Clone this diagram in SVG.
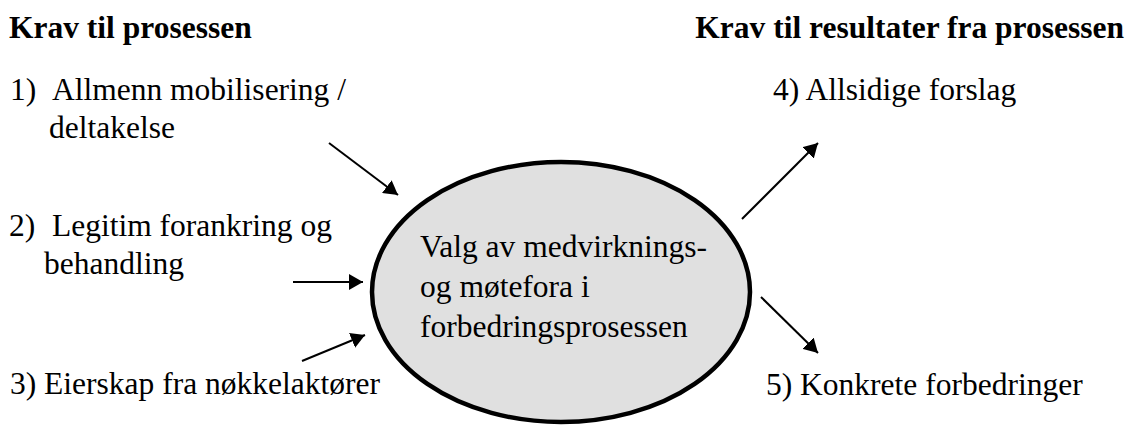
<svg xmlns="http://www.w3.org/2000/svg" width="1130" height="426" viewBox="0 0 1130 426">
<style>
text{font-family:'Liberation Serif','DejaVu Serif',serif;font-size:31.5px;fill:#000}
.h{font-weight:bold}
.c{stroke:#000;stroke-width:2;fill:none}
</style>
<defs>
<marker id="ah" viewBox="0 0 14 16" refX="14" refY="8" markerWidth="14" markerHeight="16" markerUnits="userSpaceOnUse" orient="auto">
<path d="M0,0 L14,8 L0,16 Z" fill="#000"/>
</marker>
</defs>
<rect width="1130" height="426" fill="#fff"/>
<g id="header-left"><text class="h" x="9" y="38">Krav til prosessen</text></g>
<g id="header-right"><text class="h" x="1124" y="38" text-anchor="end">Krav til resultater fra prosessen</text></g>
<g id="req1"><text x="10" y="100">1)</text><text x="52" y="100">Allmenn mobilisering /</text><text x="49" y="138">deltakelse</text></g>
<g id="req2"><text x="9" y="236">2)</text><text x="52" y="236">Legitim forankring og</text><text x="44" y="274">behandling</text></g>
<g id="req3"><text x="10" y="394">3) Eierskap fra nøkkelaktører</text></g>
<g id="res4"><text x="773" y="100">4) Allsidige forslag</text></g>
<g id="res5"><text x="766" y="395">5) Konkrete forbedringer</text></g>
<g id="center">
<ellipse cx="561" cy="292" rx="189" ry="130" fill="#e0e0e0" stroke="#000" stroke-width="4.5"/>
<text x="420" y="257">Valg av medvirknings-</text>
<text x="420" y="297">og møtefora i</text>
<text x="420" y="337">forbedringsprosessen</text>
</g>
<g id="connectors">
<line class="c" x1="329" y1="143" x2="398" y2="195" marker-end="url(#ah)"/>
<line class="c" x1="293" y1="282" x2="363" y2="282" marker-end="url(#ah)"/>
<line class="c" x1="302" y1="361" x2="365" y2="335" marker-end="url(#ah)"/>
<line class="c" x1="742" y1="219" x2="818" y2="143" marker-end="url(#ah)"/>
<line class="c" x1="761" y1="297" x2="818" y2="353" marker-end="url(#ah)"/>
</g>
</svg>
